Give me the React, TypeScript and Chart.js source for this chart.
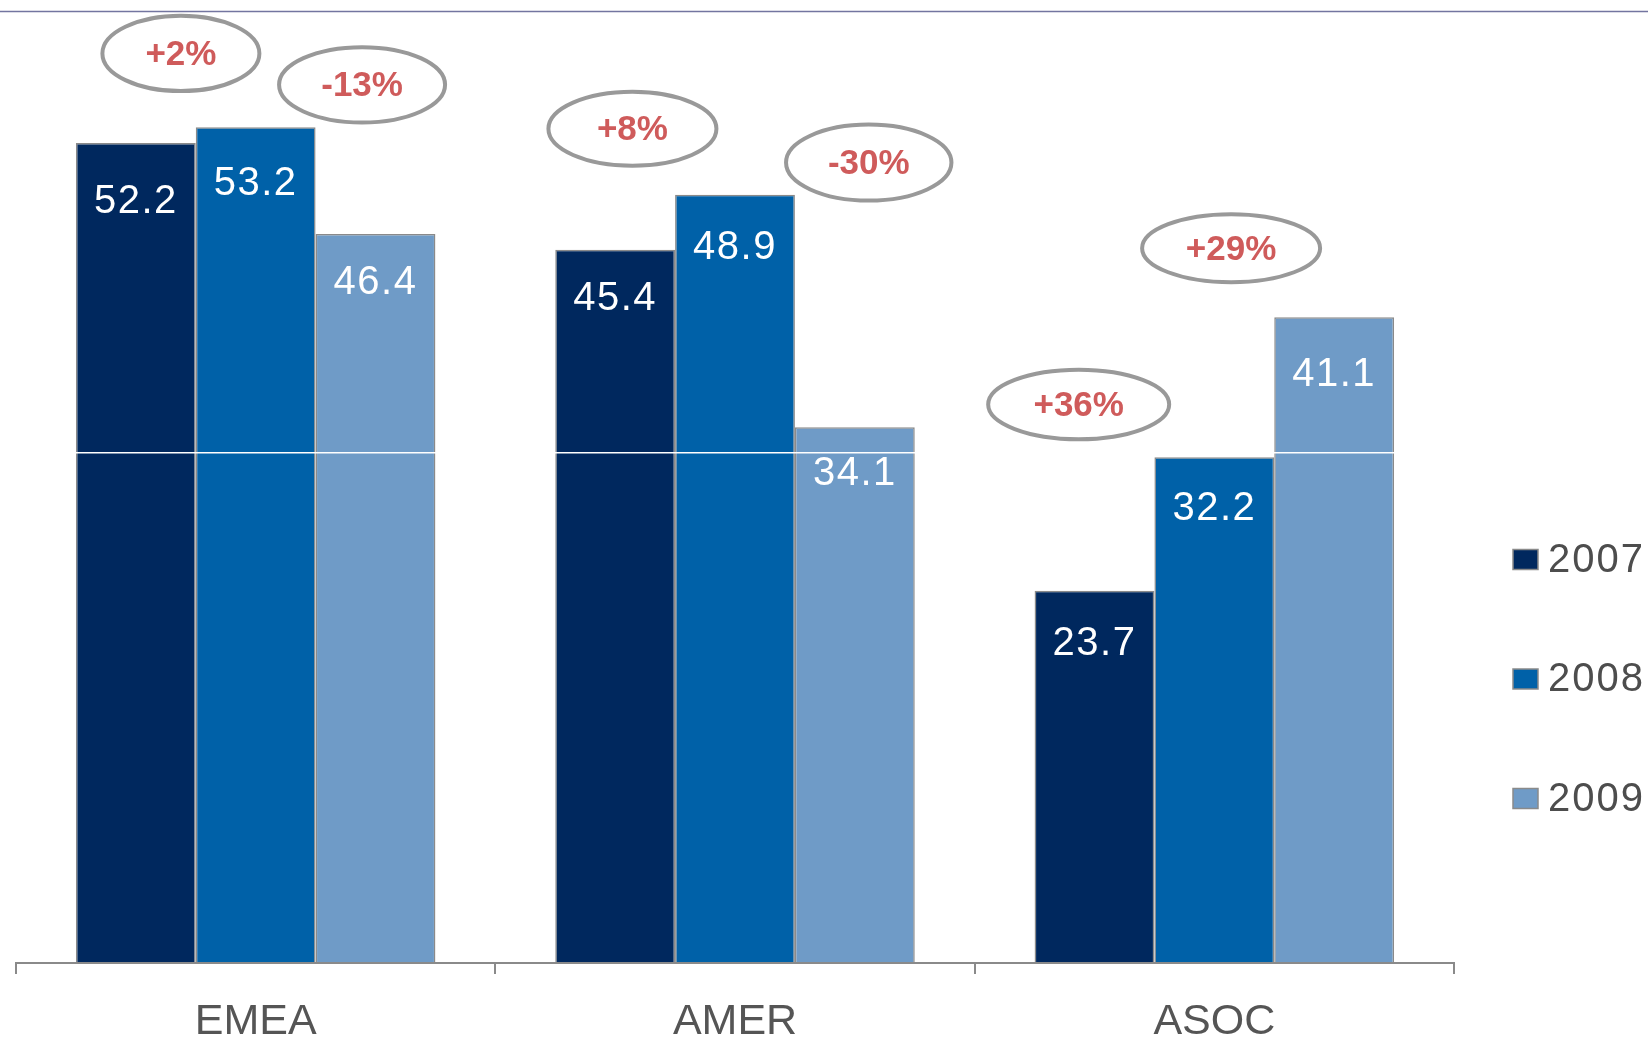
import React, { useEffect, useRef } from "react";
import { Chart, registerables } from "chart.js";

Chart.register(...registerables);

// ---- data ----
const CATEGORIES = ["EMEA", "AMER", "ASOC"];
const SERIES_LABELS = ["2007", "2008", "2009"];
const VALUES_2007 = [52.2, 45.4, 23.7];
const VALUES_2008 = [53.2, 48.9, 32.2];
const VALUES_2009 = [46.4, 34.1, 41.1];
const SERIES_COLORS = ["#00285E", "#0061A8", "#6F9BC7"];
// year-over-year change badges, in drawing order
const CHANGE_LABELS = ["+2%", "-13%", "+8%", "-30%", "+36%", "+29%"];
const Y_MAX = 60.6;
const GRID_VALUES = [32.5];

// ---- badge layout: category index, offset in category widths, value-axis height, radii ----
const BADGE_LAYOUT = [
  { cat: 0, dx: -0.156, y: 57.9, rx: 78.5, ry: 37.7 },
  { cat: 0, dx: 0.222, y: 55.9, rx: 83, ry: 37.7 },
  { cat: 1, dx: -0.214, y: 53.1, rx: 84, ry: 37 },
  { cat: 1, dx: 0.279, y: 50.95, rx: 82.7, ry: 38 },
  { cat: 2, dx: -0.283, y: 35.55, rx: 90.5, ry: 34.7 },
  { cat: 2, dx: 0.035, y: 45.5, rx: 89, ry: 34 },
];

// distance (px) from a bar's top edge down to its value label centre, [series][category]
const LABEL_DROP = [
  [59, 49, 53],
  [57, 53, 52],
  [49, 47, 58],
];

const FONT = '"Liberation Sans", Arial, sans-serif';

const topRulePlugin = {
  id: "topRule",
  beforeDraw(chart: any) {
    const { ctx, width } = chart;
    ctx.save();
    ctx.strokeStyle = "#7375A0";
    ctx.lineWidth = 1.5;
    ctx.beginPath();
    ctx.moveTo(0, 11.5);
    ctx.lineTo(width, 11.5);
    ctx.stroke();
    ctx.restore();
  },
};

const valueLabelPlugin = {
  id: "valueLabels",
  afterDraw(chart: any) {
    const { ctx } = chart;
    ctx.save();
    ctx.fillStyle = "#FFFFFF";
    ctx.font = `40px ${FONT}`;
    (ctx as any).letterSpacing = "1.5px";
    ctx.textAlign = "center";
    ctx.textBaseline = "middle";
    chart.data.datasets.forEach((ds: any, di: number) => {
      const meta = chart.getDatasetMeta(di);
      meta.data.forEach((bar: any, i: number) => {
        const v = ds.data[i];
        ctx.fillText(v.toFixed(1), bar.x, bar.y + LABEL_DROP[di][i]);
      });
    });
    ctx.restore();
  },
};

const badgePlugin = {
  id: "changeBadges",
  afterDraw(chart: any) {
    const { ctx } = chart;
    const xs = chart.scales.x;
    const ys = chart.scales.y;
    const catW = xs.width / CATEGORIES.length;
    ctx.save();
    CHANGE_LABELS.forEach((label, i) => {
      const b = BADGE_LAYOUT[i];
      const cx = xs.getPixelForValue(b.cat) + b.dx * catW;
      const cy = ys.getPixelForValue(b.y);
      ctx.beginPath();
      ctx.ellipse(cx, cy, b.rx, b.ry, 0, 0, Math.PI * 2);
      ctx.strokeStyle = "#999999";
      ctx.lineWidth = 4;
      ctx.stroke();
      ctx.fillStyle = "#CF5B5B";
      ctx.font = `bold 35px ${FONT}`;
      ctx.textAlign = "center";
      ctx.textBaseline = "middle";
      ctx.fillText(label, cx, cy + 2);
    });
    ctx.restore();
  },
};

const sideLegendPlugin = {
  id: "sideLegend",
  afterDraw(chart: any) {
    const { ctx } = chart;
    const boxX = chart.chartArea.right + 59;
    const firstY = 559.5;
    const step = 119.5;
    ctx.save();
    chart.data.datasets.forEach((ds: any, i: number) => {
      const cy = firstY + i * step;
      ctx.fillStyle = ds.backgroundColor;
      ctx.fillRect(boxX, cy - 10, 25, 20);
      ctx.strokeStyle = "#8A8A8A";
      ctx.lineWidth = 1.5;
      ctx.strokeRect(boxX, cy - 10, 25, 20);
      ctx.fillStyle = "#4D4D4D";
      ctx.font = `40px ${FONT}`;
      (ctx as any).letterSpacing = "2px";
      ctx.textAlign = "left";
      ctx.textBaseline = "middle";
      ctx.fillText(ds.label, boxX + 35, cy + 1);
    });
    ctx.restore();
  },
};

export default function App() {
  const canvasRef = useRef<HTMLCanvasElement | null>(null);

  useEffect(() => {
    document.body.style.margin = "0";
    const canvas = canvasRef.current;
    if (!canvas) return;
    const seriesValues = [VALUES_2007, VALUES_2008, VALUES_2009];
    const chart = new Chart(canvas, {
      type: "bar",
      data: {
        labels: CATEGORIES,
        datasets: SERIES_LABELS.map((label, i) => ({
          label,
          data: seriesValues[i],
          backgroundColor: SERIES_COLORS[i],
          borderColor: "#8A8A8A",
          borderWidth: 1.5,
          categoryPercentage: 0.75,
          barPercentage: 1,
        })),
      },
      options: {
        responsive: false,
        animation: false,
        devicePixelRatio: 1,
        layout: { padding: { top: 11, left: 16, right: 194, bottom: 0 } },
        plugins: {
          legend: { display: false },
          tooltip: { enabled: false },
        },
        scales: {
          x: {
            offset: true,
            grid: {
              display: true,
              offset: true,
              drawOnChartArea: false,
              drawTicks: true,
              tickLength: 11,
              color: "#8A8A8A",
              lineWidth: 2,
            },
            border: { display: true, color: "#8A8A8A", width: 2, z: 1 },
            ticks: {
              color: "#555555",
              padding: 27,
              font: { family: FONT, size: 43, lineHeight: 1 },
              maxRotation: 0,
            },
            afterFit: (scale: any) => {
              scale.height = 75;
            },
          },
          y: {
            min: 0,
            max: Y_MAX,
            border: { display: false },
            grid: {
              color: "#FFFFFF",
              lineWidth: 1.5,
              drawTicks: false,
              z: 1,
            },
            ticks: { display: false },
            afterBuildTicks: (scale: any) => {
              scale.ticks = GRID_VALUES.map((v) => ({ value: v }));
            },
            afterFit: (scale: any) => {
              scale.width = 0;
            },
          },
        },
      },
      plugins: [topRulePlugin, valueLabelPlugin, badgePlugin, sideLegendPlugin],
    });
    return () => chart.destroy();
  }, []);

  return (
    <div style={{ position: "absolute", left: 0, top: 0, width: 1648, height: 1038, background: "#FFFFFF" }}>
      <canvas ref={canvasRef} width={1648} height={1038} />
    </div>
  );
}
